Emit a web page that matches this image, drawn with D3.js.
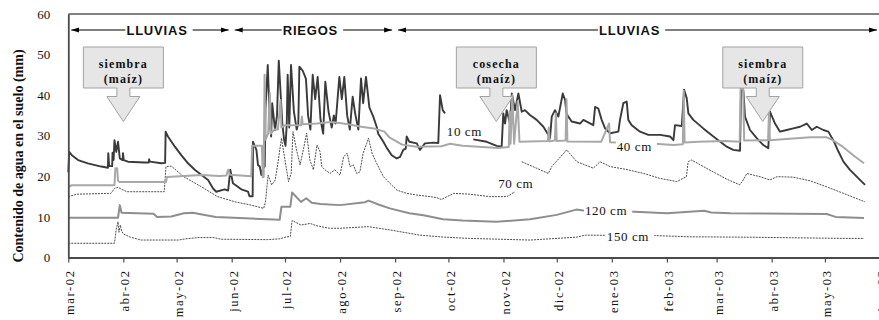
<!DOCTYPE html>
<html>
<head>
<meta charset="utf-8">
<script src="https://cdn.jsdelivr.net/npm/d3@7"></script>
<style>
  html, body { margin: 0; padding: 0; background: #fff; }
  svg { display: block; }
  svg text { font-family: 'Liberation Serif', 'Times New Roman', serif; fill: #111; }
  svg .period text { font-family: 'Liberation Sans', Arial, sans-serif; font-weight: bold; font-size: 13px; letter-spacing: 0.8px; }
  svg .x-axis text { font-size: 12.5px; letter-spacing: 1.6px; }
  svg .y-axis text { font-size: 13px; }
  svg .callout text { font-size: 12px; font-weight: bold; letter-spacing: 1.1px; }
  svg .depth-label text { font-size: 13px; letter-spacing: 0.6px; }
</style>
</head>
<body>
<svg id="chart" width="879" height="320"></svg>
<script>
// all series: [days since START, water content in mm]; null = gap in the record
const START = '2002-03-01';
const END = '2003-06-01';

const depth10 = [
  [0, 21.0], [0.5, 26.0], [2, 25.2], [5.5, 24.0], [11, 23.2], [18.6, 22.4], [22.3, 22.1], [22.5, 25.7],
  [23, 22.5], [24.7, 22.5], [24.9, 25.8], [25.5, 24.0], [26, 28.9], [27, 26.0], [28, 28.5], [29, 24.4],
  [30.6, 24.0], [30.8, 25.7], [31.2, 24.0], [33.6, 23.6], [43, 23.4], [45.3, 23.4], [45.5, 24.2],
  [46, 23.6], [52.4, 23.2], [54.5, 23.3], [54.8, 31.0], [56.1, 29.8], [60, 27.3], [63.6, 25.2],
  [67.4, 23.2], [71.2, 21.6], [75, 20.3], [78.7, 19.1], [81.5, 17.0], [83.3, 16.2], [88, 16.8],
  [90, 16.5], [91.2, 21.6], [92.7, 18.3], [97.4, 16.8], [101.2, 16.2], [102, 15.1], [103.8, 15.1],
  [104, 28.5], [105.9, 26.5], [106.8, 22.8], [107.8, 22.4], [108.7, 20.3], [109.6, 22.0], [110.6, 22.4],
  [111, 36.7], [112.3, 47.4], [113.5, 33.0], [114.2, 29.8], [114.8, 38.0], [116.4, 31.4], [117.5, 35.0],
  [118.5, 48.5], [120.5, 33.0], [121.5, 29.0], [122.3, 27.5], [123, 33.0], [123.5, 45.0], [124.4, 32.0],
  [125.4, 47.4], [127, 36.0], [128.6, 31.5], [129.5, 33.0], [130.1, 47.0], [132, 46.0], [133.8, 44.0],
  [135, 35.0], [136.3, 31.5], [137.6, 45.0], [139, 39.0], [140.4, 44.5], [142, 34.0], [143.5, 30.5],
  [144.7, 43.3], [146.5, 36.0], [148.3, 32.0], [149.5, 35.0], [150.5, 33.0], [152.6, 44.5], [154, 39.0],
  [155.4, 44.5], [157, 35.0], [158.5, 31.5], [160.1, 39.6], [161.5, 35.5], [163.3, 31.5], [164.8, 44.1],
  [166, 38.0], [167.6, 44.5], [169.5, 37.0], [171.7, 34.7], [173.6, 32.2], [174.5, 30.5], [177.4, 28.5],
  [179.3, 27.0], [182.1, 25.2], [184.9, 24.4], [186.8, 24.8],
  [188.6, 26.5], [190, 26.8], [190.5, 29.8], [192, 28.5], [196.2, 28.1], [198, 26.5], [200.8, 28.1],
  [205.5, 28.3], [208.3, 28.2], [209.3, 40.0], [210.8, 36.3], [212.1, 35.5], [213, null],
  [228, 29.1], [235.6, 28.5], [241.2, 27.5], [244, 27.3], [244.9, 35.5], [245.9, 33.0], [246.8, 36.3],
  [248.7, 33.0], [249.7, 40.4], [251.5, 36.3], [253.4, 40.4], [255.3, 35.9], [257.1, 36.3], [259.9, 35.1],
  [263.7, 33.9], [267.5, 32.2], [270.3, 30.2], [271.2, 29.4], [272.2, 34.7], [274, 36.3], [275.9, 34.7],
  [278.4, 40.4], [279.7, 38.8], [280.5, 35.5], [281.5, 34.7], [283.4, 33.5], [288.1, 33.0], [290, 33.9],
  [295.6, 32.6], [296.6, 37.1], [298.4, 36.7], [300.3, 33.9], [302.2, 31.8], [305, 30.6], [309.7, 31.0],
  [310.6, 33.9], [312.5, 38.0], [314.4, 38.4], [315.3, 33.9], [317.2, 32.6], [321.9, 31.0], [326.6, 30.2],
  [333.2, 30.2], [338.8, 29.8], [340.7, 28.9], [341.6, 32.6], [345.4, 32.4], [346.7, 41.3], [348.2, 39.2],
  [349.1, 35.5], [351.9, 33.9], [357.5, 31.8], [363.2, 29.8], [370.7, 27.3], [374.4, 26.5], [378.2, 26.3],
  [378.8, 41.7], [380.1, 41.0], [381, 34.7], [383.8, 31.4], [387.6, 29.4], [391.3, 27.7], [394.1, 26.9],
  [395.1, 35.9], [397.9, 33.0], [400.7, 31.0], [404.5, 31.4], [408.2, 31.8], [412, 32.2], [415.8, 33.0],
  [418.6, 31.4], [421.4, 32.2], [425.1, 31.4], [427.9, 31.0], [430.7, 28.9], [433.6, 26.1], [436.4, 23.6],
  [440.1, 21.6], [443.9, 19.9], [446.7, 18.7], [448.6, 17.9],
];

const depth40 = [
  [0, 17.4], [2, 17.8], [26, 17.8], [26.5, 22.0], [27.5, 22.0], [28, 18.9], [29, 18.6], [55, 18.6],
  [55.5, 19.8], [75, 20.3], [85, 20.1], [89, 20.2], [90, 21.6], [91, 20.4], [103, 20.0], [103.5, 27.5],
  [109, 27.5], [109.5, 19.8], [110, 19.8], [110.5, 45.0], [111, 29.0], [112.5, 30.5], [113.5, 40.5],
  [114, 30.5], [116, 31.5], [118, 31.5], [119.5, 38.8], [120, 32.0], [122, 32.6], [131, 32.6],
  [131.5, 34.7], [132, 32.8], [140, 33.0], [148, 33.4], [155, 33.0], [165, 32.2], [172, 31.8], [178, 31.0],
  [181, 29.5], [188, 27.8], [196, 27.3], [210, 27.4],
  [215, 28.0], [222, 27.5], [242, 27.0], [248, 27.2], [248.5, 36.0], [249, 28.0], [250, 40.0], [251, 28.0],
  [253, 38.5], [254, 28.5], [270, 28.7], [270.5, 32.0], [271, 28.6], [274, 28.8], [274.5, 35.5],
  [275, 28.7], [280, 28.8], [280.5, 39.0], [281, 28.6], [300, 28.5], [304.5, 33.0], [305, 28.4],
  [316, 28.2], [330, 28.0], [341, 27.7], [346, 27.9], [346.5, 41.0], [347, 28.3], [355, 28.5], [370, 28.7],
  [378, 28.5], [378.5, 41.5], [380, 41.5], [380.5, 28.8], [394, 28.9], [394.5, 36.0], [395, 28.9],
  [408, 29.3], [418, 29.6], [427, 29.6], [430, 29.0], [436, 27.3], [443, 24.8], [448, 23.2],
];

const depth70 = [
  [0, 15.0], [5, 15.6], [24, 15.8], [26, 17.0], [28, 17.3], [30, 16.8], [33, 16.2], [54, 16.2], [55, 22.4],
  [58, 22.5], [65, 19.9], [75, 17.4], [84, 15.0], [94, 13.7], [103, 12.9], [110, 12.1], [111, 13.7],
  [112.5, 20.3], [114.5, 17.9], [116.5, 19.1], [118, 23.2], [120, 29.4], [122, 24.0], [124, 18.7],
  [125.5, 20.7], [126.5, 31.0], [128.5, 26.5], [130.5, 22.8], [132.3, 26.5], [134.2, 30.6], [136, 24.0],
  [138, 21.6], [140, 27.7], [141.7, 26.1], [142.7, 22.4], [144.5, 21.6], [147.4, 20.7], [150, 21.6],
  [153, 20.3], [155, 24.8], [157, 25.7], [158.6, 22.4], [160.5, 22.8], [162.4, 20.7], [164.2, 21.1],
  [166, 25.7], [168, 28.1], [169, 29.4], [171, 25.7], [173.6, 23.2], [177.4, 19.9], [181, 18.3],
  [185, 16.6], [190.5, 15.8], [196, 15.4], [207, 14.8], [210, 14.3], [217, 15.8], [226, 15.6], [237, 15.0],
  [247, 15.0], [251.5, 16.2], [253, null], [255.3, 23.6], [270.3, 20.7], [272.2, 22.4], [280.6, 26.5],
  [286.3, 23.6], [295.6, 22.0], [299.4, 23.6], [305, 22.4], [314, 21.7], [324, 20.7], [333, 19.5],
  [342.6, 18.7], [348, 19.9], [349, 23.6], [351, 24.0], [357.5, 22.4], [370.7, 19.3], [378, 17.9],
  [380, 19.1], [382, 20.7], [389.5, 19.9], [395, 19.1], [399, 19.9], [408, 19.8], [417.6, 18.9],
  [427, 17.4], [436.4, 15.8], [448.6, 13.7],
];

const depth120 = [
  [0, 9.8], [28, 9.8], [29, 12.9], [30, 11.0], [48, 10.8], [50, 10.0], [58, 10.1], [65, 10.9], [70, 11.0],
  [83, 10.0], [103, 9.6], [112, 9.4], [119, 9.3], [120, 12.5], [125, 12.5], [126, 16.0], [131, 13.7],
  [134, 14.6], [137, 13.5], [142, 13.2], [153, 12.9], [167, 13.6], [169, 14.0], [175, 13.0], [181, 12.1],
  [192, 10.9], [200, 10.4], [211, 9.4], [222, 9.1], [241, 8.8], [260, 9.4], [275, 10.5], [286, 11.8],
  [290, 11.6], [316, 11.3], [337, 10.9], [358, 11.5], [362, 11.1], [373, 10.9], [427, 10.7], [432, 10.0],
  [448, 9.7],
];

const depth150 = [
  [0, 3.5], [26, 3.5], [27, 7.0], [28, 8.8], [28.5, 6.2], [29.3, 8.0], [30, 6.5], [31, 5.8], [35, 5.0],
  [41, 4.3], [62, 4.3], [66, 4.6], [73, 4.9], [82, 4.9], [86, 4.5], [112, 4.4], [119, 4.6], [122, 5.0],
  [125, 5.2], [126, 9.1], [131, 8.0], [134, 8.2], [136, 8.4], [140, 7.8], [147, 7.2], [153, 7.2],
  [165, 7.5], [169, 7.6], [181, 6.8], [198, 5.5], [212, 5.0], [226, 4.7], [243, 4.5], [260, 4.3],
  [286, 5.0], [291, 5.5], [330, 5.4], [350, 5.1], [382, 5.0], [437, 4.7], [448, 4.7],
];

const depthNames = ['150 cm', '120 cm', '70 cm', '10 cm', '40 cm'];
const depthSeries = [depth150, depth120, depth70, depth10, depth40];

// where each depth name is written: [days since START, mm]
const depthLabelAt = [[303.2, 5.3], [290.9, 11.5], [242, 18.3], [213.1, 31.0], [308.8, 27.3]];

const yTicks = [0, 10, 20, 30, 40, 50, 60];
const xTickLabels = [
  'mar-02', 'abr-02', 'may-02', 'jun-02', 'jul-02', 'ago-02', 'sep-02', 'oct-02',
  'nov-02', 'dic-02', 'ene-03', 'feb-03', 'mar-03', 'abr-03', 'may-03', 'jun-03',
];

const periodLabels = ['LLUVIAS', 'RIEGOS', 'LLUVIAS'];
const periodStarts = ['2002-03-01', '2002-06-01', '2002-09-01'];
const periodEnds = ['2002-06-01', '2002-09-01', '2003-06-01'];

const eventDates = ['2002-04-01', '2002-10-28', '2003-03-27'];
const eventLines = [['siembra', '(maíz)'], ['cosecha', '(maíz)'], ['siembra', '(maíz)']];

const yTitle = 'Contenido de agua en el suelo (mm)';

// ---- styles ----
const depthStyle = {
  '10 cm': { color: '#3a3a3a', width: 1.9, dash: null },
  '40 cm': { color: '#a8a8a8', width: 2, dash: null },
  '70 cm': { color: '#3a3a3a', width: 0.9, dash: '2,1' },
  '120 cm': { color: '#8e8e8e', width: 2, dash: null },
  '150 cm': { color: '#3a3a3a', width: 0.9, dash: '2,1' },
};
const labelBackground = { '40 cm': true, '120 cm': true, '150 cm': true };
const periodTextShift = [7, -3, -8]; // px, the labels are not centred on their arrows

const parse = d3.utcParse('%Y-%m-%d');
const start = parse(START);
const dayToDate = d => new Date(start.getTime() + d * 864e5);

const svg = d3.select('#chart');
const x = d3.scaleUtc().domain([start, parse(END)]).range([68.3, 880]);
const y = d3.scaleLinear().domain([0, 60]).range([257.5, 13.9]);

const defs = svg.append('defs');
defs.append('marker')
  .attr('id', 'arrow')
  .attr('viewBox', '0 0 10 10')
  .attr('refX', 10)
  .attr('refY', 5)
  .attr('markerWidth', 8)
  .attr('markerHeight', 8)
  .attr('markerUnits', 'userSpaceOnUse')
  .attr('orient', 'auto-start-reverse')
  .append('path')
  .attr('d', 'M0,1.8L10,5L0,8.2Z')
  .attr('fill', '#000');

// top frame line
svg.append('line')
  .attr('x1', x.range()[0])
  .attr('x2', x.range()[1])
  .attr('y1', y(60))
  .attr('y2', y(60))
  .attr('stroke', '#5a5a5a')
  .attr('stroke-width', 1.5);

// series
const line = d3.line()
  .defined(p => p[1] !== null)
  .x(p => x(dayToDate(p[0])))
  .y(p => y(p[1]));

svg.append('g')
  .attr('class', 'series')
  .selectAll('path')
  .data(depthSeries)
  .join('path')
  .attr('d', line)
  .attr('fill', 'none')
  .attr('stroke', (d, i) => depthStyle[depthNames[i]].color)
  .attr('stroke-width', (d, i) => depthStyle[depthNames[i]].width)
  .attr('stroke-dasharray', (d, i) => depthStyle[depthNames[i]].dash)
  .attr('stroke-linejoin', 'round');

// depth labels
const depthLabel = svg.append('g')
  .attr('class', 'depth-label')
  .selectAll('g')
  .data(depthNames)
  .join('g');
depthLabel.append('rect')
  .attr('fill', '#fff');
depthLabel.append('text')
  .attr('x', (d, i) => x(dayToDate(depthLabelAt[i][0])))
  .attr('y', (d, i) => y(depthLabelAt[i][1]))
  .attr('dy', '0.35em')
  .text(d => d);
depthLabel.each(function (d) {
  const g = d3.select(this);
  if (!labelBackground[d])
    return;
  const box = g.select('text').node().getBBox();
  g.select('rect')
    .attr('x', box.x - 1)
    .attr('y', box.y + 1)
    .attr('width', box.width + 6)
    .attr('height', box.height - 2);
});

// axes
const xAxis = svg.append('g')
  .attr('class', 'x-axis')
  .attr('transform', `translate(0,${y(0)})`)
  .call(d3.axisBottom(x)
    .ticks(d3.utcMonth.every(1))
    .tickSize(5)
    .tickSizeOuter(0)
    .tickFormat((d, i) => xTickLabels[i]));
xAxis.attr('font-family', null).attr('font-size', null);
xAxis.select('.domain').attr('stroke', '#4a4a4a').attr('stroke-width', 1.8);
xAxis.selectAll('.tick line').attr('stroke', '#4a4a4a').attr('stroke-width', 1.2);
xAxis.selectAll('.tick text')
  .attr('transform', 'rotate(-90)')
  .attr('text-anchor', 'end')
  .attr('x', -12)
  .attr('y', 0)
  .attr('dy', '0.45em');

const yAxis = svg.append('g')
  .attr('class', 'y-axis')
  .attr('transform', `translate(${x.range()[0]},0)`)
  .call(d3.axisLeft(y)
    .tickValues(yTicks)
    .tickSize(0)
    .tickPadding(18));
yAxis.attr('font-family', null).attr('font-size', null);
yAxis.select('.domain').attr('stroke', '#4a4a4a').attr('stroke-width', 1.8);

svg.append('text')
  .attr('transform', `translate(23,156) rotate(-90)`)
  .attr('text-anchor', 'middle')
  .style('font-size', '14px')
  .style('font-weight', 'bold')
  .text(yTitle);

// irrigation / rain periods
const arrowY = 30;
const period = svg.append('g')
  .attr('class', 'period')
  .selectAll('g')
  .data(periodLabels)
  .join('g');
period.each(function (label, i) {
  const g = d3.select(this);
  const x0 = x(parse(periodStarts[i])) + 3;
  const x1 = x(parse(periodEnds[i])) - 3;
  const mid = (x0 + x1) / 2 + periodTextShift[i];
  const text = g.append('text')
    .attr('x', mid)
    .attr('y', arrowY)
    .attr('dy', '0.35em')
    .attr('text-anchor', 'middle')
    .text(label);
  const w = text.node().getComputedTextLength();
  g.append('line')
    .attr('x1', x0)
    .attr('x2', mid - w / 2 - 1)
    .attr('y1', arrowY)
    .attr('y2', arrowY)
    .attr('stroke', '#000')
    .attr('marker-start', 'url(#arrow)');
  g.append('line')
    .attr('x1', mid + w / 2 + 5)
    .attr('x2', x1)
    .attr('y1', arrowY)
    .attr('y2', arrowY)
    .attr('stroke', '#000')
    .attr('marker-end', 'url(#arrow)');
});

// callouts: box with a down arrow pointing at the event date
const boxTop = 47, boxW = 80, boxH = 41, stemW = 13, stemH = 8.5, headW = 33, headH = 25;
const callout = svg.append('g')
  .attr('class', 'callout')
  .selectAll('g')
  .data(eventDates)
  .join('g')
  .attr('transform', d => `translate(${x(parse(d))},0)`);
callout.append('path')
  .attr('d', () => {
    const b = boxTop + boxH;
    const s = b + stemH;
    return `M${-boxW / 2},${boxTop}H${boxW / 2}V${b}H${stemW / 2}V${s}H${headW / 2}`
      + `L0,${s + headH}L${-headW / 2},${s}H${-stemW / 2}V${b}H${-boxW / 2}Z`;
  })
  .attr('fill', '#e6e6e6')
  .attr('stroke', '#a2a2a2')
  .attr('stroke-width', 1);
callout.selectAll('text')
  .data((d, i) => eventLines[i])
  .join('text')
  .attr('x', 0)
  .attr('y', (d, i) => boxTop + 20.5 + i * 15)
  .attr('text-anchor', 'middle')
  .text(d => d);
</script>
</body>
</html>
